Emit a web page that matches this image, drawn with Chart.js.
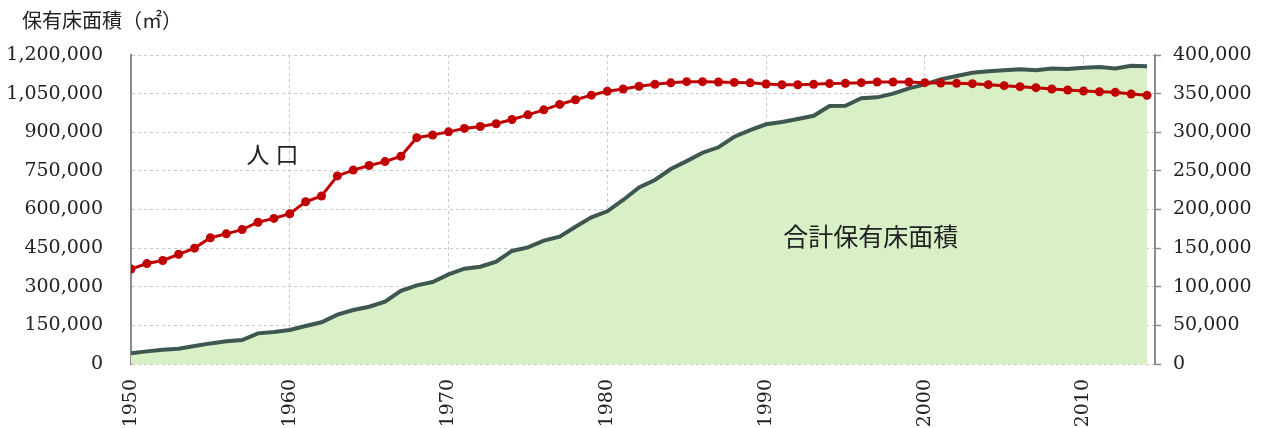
<!DOCTYPE html>
<html lang="ja">
<head>
<meta charset="UTF-8">
<title>保有床面積と人口</title>
<script src="https://cdn.jsdelivr.net/npm/chart.js"></script>
<style>
  body { margin: 0; background: #fff; }
  #wrap { width: 1264px; height: 428px; }
</style>
</head>
<body>
<div id="wrap"><canvas id="myChart"></canvas></div>
<script>
// 年
const years = [
  1950, 1951, 1952, 1953, 1954, 1955, 1956, 1957, 1958, 1959,
  1960, 1961, 1962, 1963, 1964, 1965, 1966, 1967, 1968, 1969,
  1970, 1971, 1972, 1973, 1974, 1975, 1976, 1977, 1978, 1979,
  1980, 1981, 1982, 1983, 1984, 1985, 1986, 1987, 1988, 1989,
  1990, 1991, 1992, 1993, 1994, 1995, 1996, 1997, 1998, 1999,
  2000, 2001, 2002, 2003, 2004, 2005, 2006, 2007, 2008, 2009,
  2010, 2011, 2012, 2013, 2014
];

// 合計保有床面積 (㎡) - 左軸
const floorArea = [
  41500, 49000, 55500, 59500, 70000, 80000, 88000, 93000, 119000, 124000,
  132000, 147500, 162000, 191500, 209500, 222500, 242000, 284500, 305500, 318500,
  348000, 370000, 378000, 397000, 439000, 453000, 479000, 494500, 533000, 569500,
  593000, 637000, 686000, 714500, 757000, 788000, 820500, 841500, 882500, 908500,
  931000, 940000, 951500, 964000, 1002000, 1003000, 1032000, 1035500, 1050000, 1070500,
  1086000, 1105500, 1118500, 1131000, 1136500, 1140500, 1144500, 1140500, 1148000, 1145500,
  1150500, 1153000, 1148000, 1158000, 1156000
];

// 人口 - 右軸
const population = [
  123000, 130000, 134000, 142000, 150000, 163500, 168500, 174000, 183500, 188500,
  194500, 210000, 217500, 243500, 251000, 257000, 262000, 269000, 293000, 296500,
  300500, 305000, 307500, 311000, 316500, 322500, 329000, 336000, 342000, 348000,
  353000, 356000, 359500, 362000, 364000, 365500, 365500, 365000, 364500, 364000,
  362500, 361500, 361500, 362000, 363000, 363300, 364200, 365000, 365000, 365000,
  364200, 363800, 363300, 362900, 361600, 360300, 359000, 357700, 356000, 354700,
  353400, 352500, 351700, 349500, 347800
];

// 軸の目盛り
const xTicks = [1950, 1960, 1970, 1980, 1990, 2000, 2010];
const leftTicks = [0, 150000, 300000, 450000, 600000, 750000, 900000, 1050000, 1200000];
const rightTicks = [0, 50000, 100000, 150000, 200000, 250000, 300000, 350000, 400000];

const numFont = { family: "'DejaVu Serif', serif", size: 19 };
const cjkFont = "'Noto Sans CJK JP', sans-serif";
const gridColor = '#c9c9c9';
const axisColor = '#8c8c8c';

// 注記テキスト (タイトル・系列名)
const labelPlugin = {
  id: 'labels',
  afterDraw(chart) {
    const { ctx, scales } = chart;
    ctx.save();
    ctx.fillStyle = '#222';
    ctx.textBaseline = 'middle';

    ctx.font = '20px ' + cjkFont;
    ctx.textAlign = 'left';
    ctx.fillText('保有床面積（㎡）', 22, 20);

    ctx.textAlign = 'center';
    ctx.font = '23px ' + cjkFont;
    ctx.letterSpacing = '6px';
    ctx.fillText('人口', scales.x.getPixelForValue(1959.1), scales.y.getPixelForValue(815000));
    ctx.letterSpacing = '0px';

    ctx.font = '25px ' + cjkFont;
    ctx.fillText('合計保有床面積', scales.x.getPixelForValue(1996.6), scales.y.getPixelForValue(497000));
    ctx.restore();
  }
};

const ctx = document.querySelector('#myChart');

const myChart = new Chart(ctx, {
  type: 'line',
  data: {
    datasets: [
      {
        label: '人口',
        yAxisID: 'y2',
        data: years.map((yr, i) => ({ x: yr, y: population[i] })),
        borderColor: '#c00000',
        backgroundColor: '#c00000',
        borderWidth: 3,
        pointRadius: 4.5,
        pointBorderWidth: 0,
        pointBackgroundColor: '#c00000',
        tension: 0
      },
      {
        label: '合計保有床面積',
        yAxisID: 'y',
        data: years.map((yr, i) => ({ x: yr, y: floorArea[i] })),
        borderColor: '#3e5851',
        backgroundColor: '#d9efc6',
        borderWidth: 4,
        pointRadius: 0,
        fill: 'origin',
        tension: 0
      }
    ]
  },
  options: {
    responsive: true,
    maintainAspectRatio: false,
    animation: false,
    layout: { padding: { top: 55, left: 0, right: 0, bottom: 0 } },
    plugins: {
      legend: { display: false },
      tooltip: { enabled: false }
    },
    scales: {
      x: {
        type: 'linear',
        min: 1950,
        max: 2014.5,
        afterBuildTicks: (s) => { s.ticks = xTicks.map(v => ({ value: v })); },
        afterFit: (s) => { s.height = 64; },
        ticks: {
          color: '#222',
          font: numFont,
          padding: 15,
          minRotation: 90,
          maxRotation: 90,
          autoSkip: false,
          callback: (v) => String(v)
        },
        grid: { color: gridColor, lineWidth: 1, drawTicks: false },
        border: { display: false, dash: [3, 3] }
      },
      y: {
        position: 'left',
        min: 0,
        max: 1200000,
        afterBuildTicks: (s) => { s.ticks = leftTicks.map(v => ({ value: v })); },
        afterFit: (s) => { s.width = 131; },
        ticks: {
          color: '#222',
          font: numFont,
          padding: 28,
          callback: (v) => v.toLocaleString('en-US')
        },
        grid: { color: gridColor, lineWidth: 1, drawTicks: false },
        border: { display: true, color: axisColor, width: 2, dash: [3, 3] }
      },
      y2: {
        position: 'right',
        min: 0,
        max: 400000,
        afterBuildTicks: (s) => { s.ticks = rightTicks.map(v => ({ value: v })); },
        afterFit: (s) => { s.width = 109; },
        ticks: {
          color: '#222',
          font: numFont,
          padding: 12,
          callback: (v) => v.toLocaleString('en-US')
        },
        grid: { drawOnChartArea: false, drawTicks: true, tickLength: 6, tickColor: axisColor, tickWidth: 1.5 },
        border: { display: true, color: axisColor, width: 2 }
      }
    }
  },
  plugins: [labelPlugin]
});
</script>
</body>
</html>
